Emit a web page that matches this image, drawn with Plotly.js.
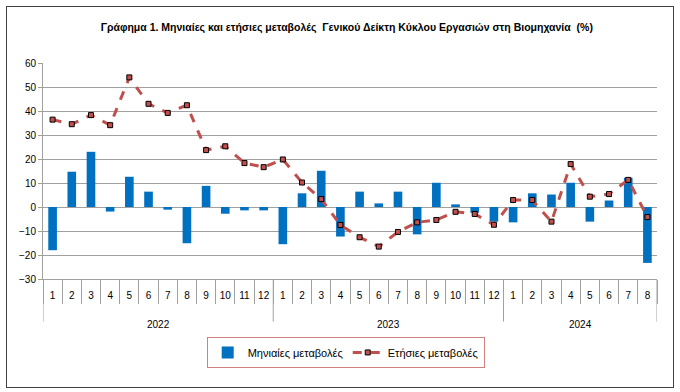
<!DOCTYPE html>
<html>
<head>
<meta charset="utf-8">
<script src="https://cdn.plot.ly/plotly-3.0.1.min.js"></script>
<style>
  html, body { margin: 0; padding: 0; background: #fff; }
  #wrap { position: relative; width: 680px; height: 392px; }
  #chart { position: absolute; left: 0; top: 0; width: 680px; height: 392px; }
  #frame { position: absolute; left: 6px; top: 6px; width: 666px; height: 380px; border: 1px solid #404040; pointer-events: none; }
</style>
</head>
<body>
<div id="wrap">
  <div id="chart"></div>
  <div id="frame"></div>
</div>
<script>
const years = ['2022','2022','2022','2022','2022','2022','2022','2022','2022','2022','2022','2022',
               '2023','2023','2023','2023','2023','2023','2023','2023','2023','2023','2023','2023',
               '2024','2024','2024','2024','2024','2024','2024','2024'];
const months = ['1','2','3','4','5','6','7','8','9','10','11','12',
                '1','2','3','4','5','6','7','8','9','10','11','12',
                '1','2','3','4','5','6','7','8'];
const monthly = [-18.0, 14.7, 23.0, -1.9, 12.6, 6.4, -1.1, -15.1, 8.8, -2.8, -1.4, -1.4,
                 -15.5, 5.7, 15.1, -12.3, 6.4, 1.5, 6.4, -11.4, 10.1, 1.1, -2.4, -6.1,
                 -6.4, 5.7, 5.2, 10.1, -6.1, 2.7, 12.2, -23.3];
const annual = [36.4, 34.5, 38.3, 34.1, 54.0, 43.0, 39.2, 42.4, 23.7, 25.3, 18.3, 16.6,
                19.8, 10.2, 3.3, -7.5, -12.6, -16.5, -10.4, -6.4, -5.4, -2.0, -2.9, -7.4,
                2.9, 2.9, -6.1, 17.9, 4.3, 5.4, 11.3, -4.2];
const seriesNames = ['Μηνιαίες μεταβολές', 'Ετήσιες μεταβολές'];
const chartTitle = 'Γράφημα 1. Μηνιαίες και ετήσιες μεταβολές  Γενικού Δείκτη Κύκλου Εργασιών στη Βιομηχανία  (%)';

const fontFam = '"Liberation Sans", Arial, sans-serif';

// category positions (index scale)
const idx = months.map((m, i) => i);
const boundaries = months.map((m, i) => i - 0.5).concat([months.length - 0.5]);

// year groups derived from the years array
const groups = [];
years.forEach((y, i) => {
  const g = groups[groups.length - 1];
  if (g && g.year === y) { g.end = i; } else { groups.push({ year: y, start: i, end: i }); }
});

const traces = [
  {
    type: 'bar', name: seriesNames[0], x: idx, y: monthly,
    marker: { color: '#0070C0' }, width: 0.45
  },
  {
    type: 'scatter', mode: 'lines+markers', name: seriesNames[1], x: idx, y: annual,
    line: { color: '#C0504D', width: 3, dash: 'dash' },
    marker: { symbol: 'square', size: 5, color: '#C0504D', line: { color: '#000', width: 1 } }
  }
];

const yearAnnotations = groups.map(g => ({
  x: (g.start + g.end) / 2, xref: 'x', y: -0.211, yref: 'paper',
  text: g.year, showarrow: false, xanchor: 'center', yanchor: 'middle',
  font: { size: 10, family: fontFam, color: '#000' }
}));
const yearDividers = [];
groups.forEach((g, k) => {
  if (k === 0) yearDividers.push(g.start - 0.5);
  yearDividers.push(g.end + 0.5);
});
const dividerShapes = yearDividers.map(xv => ({
  type: 'line', xref: 'x', yref: 'paper', x0: xv, x1: xv, y0: 0, y1: -0.197,
  line: { color: '#a0a0a0', width: 1 }
}));

const layout = {
  width: 680, height: 392,
  margin: { l: 43, r: 23, t: 63, b: 113 },
  paper_bgcolor: '#fff', plot_bgcolor: '#fff',
  font: { family: fontFam, size: 10, color: '#000' },
  title: { text: '<b>' + chartTitle + '</b>', x: 0.51, xanchor: 'center', y: 0.93, yanchor: 'middle',
           font: { family: fontFam, size: 10.5, color: '#000' } },
  showlegend: true,
  legend: { orientation: 'h', x: 0.493, xanchor: 'center', y: -0.34, yanchor: 'middle',
            bordercolor: '#d08080', borderwidth: 1, font: { size: 11, family: fontFam } },
  xaxis: {
    type: 'linear',
    range: [-0.5, months.length - 0.5], autorange: false,
    tickmode: 'array', tickvals: idx, ticktext: months, tickangle: 0,
    ticks: 'outside', ticklen: 7, tickcolor: 'rgba(0,0,0,0)',
    minor: { tickmode: 'array', tickvals: boundaries, ticks: 'outside', ticklen: 24, tickcolor: '#a0a0a0', showgrid: false },
    showline: true, linecolor: '#a0a0a0', linewidth: 1,
    zeroline: false, showgrid: false,
    tickfont: { size: 10, family: fontFam }
  },
  yaxis: {
    range: [-30, 60], dtick: 10, tick0: 0,
    showgrid: true, gridcolor: '#a0a0a0', gridwidth: 1,
    zeroline: true, zerolinecolor: '#a0a0a0', zerolinewidth: 1,
    showline: true, linecolor: '#a0a0a0',
    ticks: 'outside', ticklen: 4, tickcolor: '#a0a0a0',
    tickfont: { size: 10, family: fontFam }
  },
  annotations: yearAnnotations,
  shapes: dividerShapes
};

Plotly.newPlot('chart', traces, layout, { displayModeBar: false, staticPlot: true });
</script>
</body>
</html>
